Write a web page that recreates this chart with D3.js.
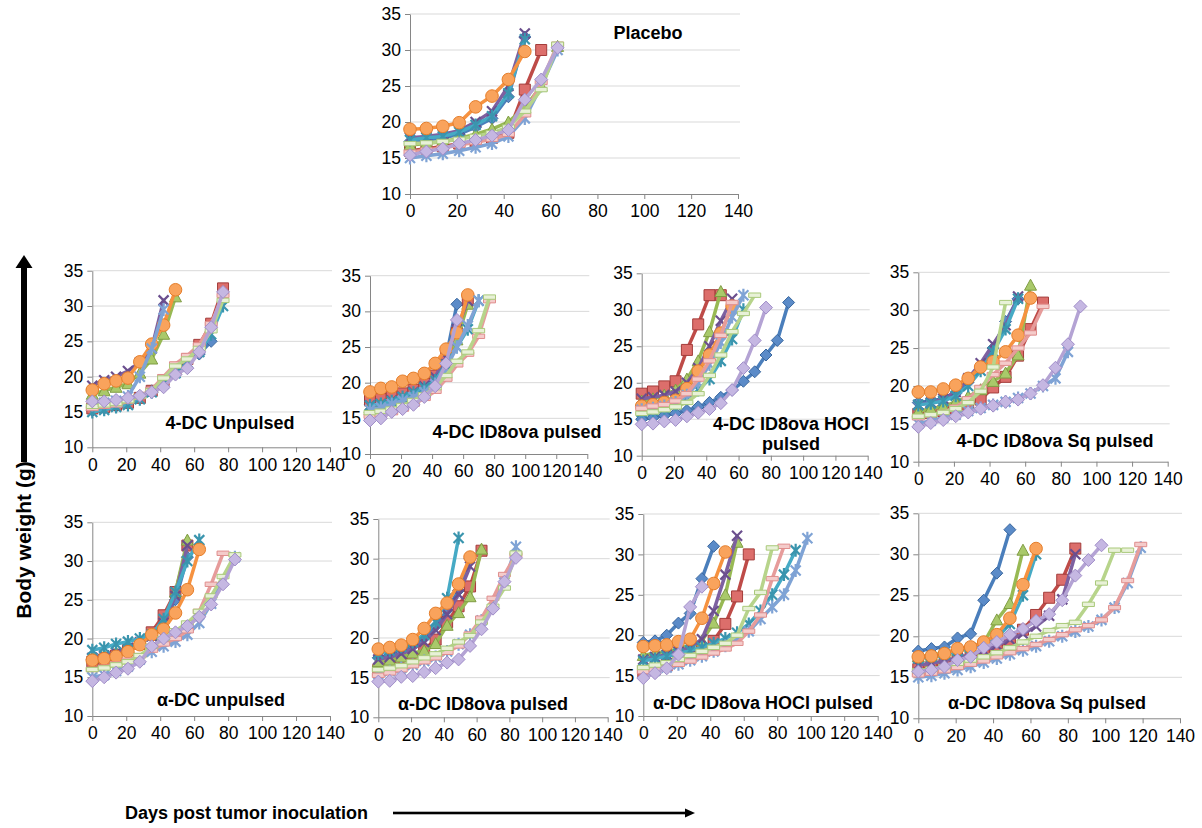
<!DOCTYPE html>
<html>
<head>
<meta charset="utf-8">
<script src="https://cdn.jsdelivr.net/npm/d3@7/dist/d3.min.js"></script>
<style>
  body { margin: 0; background: #fff; }
  svg { display: block; font-family: Arial, "Liberation Sans", sans-serif; }
</style>
</head>
<body>
<div id="grafico"></div>
<script>
// weigh-in days (same for every mouse) and axis ticks
const days   = [0, 7, 14, 21, 28, 35, 42, 49, 56, 63, 70, 77, 84, 91, 98, 105, 112, 119];
const xTicks = [0, 20, 40, 60, 80, 100, 120, 140];
const yTicks = [10, 15, 20, 25, 30, 35];

const panelTitles = [
  "Placebo",
  "4-DC Unpulsed", "4-DC ID8ova pulsed", "4-DC ID8ova HOCl\npulsed", "4-DC ID8ova Sq pulsed",
  "α-DC unpulsed", "α-DC ID8ova pulsed", "α-DC ID8ova HOCl pulsed", "α-DC ID8ova Sq pulsed"
];

// body weight (g) per mouse, one row per series in the order:
// blue, red, green, purple, teal, orange, light blue, pink, light green, lavender
const placebo = [
  [17.3, 17.5, 17.8, 18.3, 19.3, 20.5, 23.5, 31.8],
  [16, 16.3, 16.6, 17, 17.3, 17.8, 18.5, 24.5, 30],
  [16.8, 17, 17.3, 17.7, 18.3, 19, 20, 22, 25, 30.5],
  [17.8, 18, 18.3, 18.8, 20, 21.5, 25, 32.3],
  [17.5, 17.8, 18, 18.6, 19.6, 20.8, 24, 31.5],
  [19, 19.1, 19.4, 19.9, 22.1, 23.6, 25.9, 29.8],
  [15, 15.3, 15.6, 16, 16.5, 17, 18, 20.5, 25, 30],
  [15.8, 16.1, 16.4, 16.8, 17.2, 17.6, 18.3, 21, 25.5, 30.8],
  [17, 17.1, 17.3, 17.6, 18, 18.5, 19.3, 21.5, 24.5, 30.8],
  [15.4, 15.9, 16.3, 17, 17.5, 18.1, 18.9, 23.1, 25.9, 30.3]
];
const dc4Unpulsed = [
  [15.2, 15.5, 15.8, 16.2, 17, 18, 19.3, 20.8, 22.3, 23.2, 25],
  [15.5, 15.7, 16, 16.3, 17, 18, 19.5, 21, 22.5, 24.5, 27.5, 32.5],
  [17.5, 18, 18.5, 19, 20.5, 22.5, 26, 31.3],
  [18.7, 19.5, 20, 20.8, 22, 24, 30.8],
  [15, 15.3, 15.7, 16, 16.8, 17.8, 19, 20.5, 22, 23.5, 26, 30],
  [18.1, 19, 19.4, 19.8, 22.1, 24.6, 27.3, 32.3],
  [16, 16.3, 16.6, 17.2, 20, 24, 29.5],
  [15.5, 15.8, 16, 16.5, 17.2, 18.2, 20, 21.8, 23, 24.5, 27.5, 31.5],
  [15.8, 16, 16.2, 16.6, 17.2, 18, 19.8, 21.5, 22.5, 24, 26.5, 30.8],
  [16.5, 16.5, 16.7, 17, 17.3, 17.8, 18.5, 20.3, 21.2, 23.5, 27, 32]
];
const dc4Pulsed = [
  [17, 17.3, 17.6, 18, 18.5, 19.3, 20.5, 23.5, 31],
  [17.5, 17.7, 18, 18.5, 19, 19.8, 21, 24, 27, 31.5],
  [16.5, 17, 17.2, 17.8, 18.3, 19, 20, 22.5, 26, 31],
  [16.8, 17, 17.5, 18, 18.7, 19.5, 20.8, 23.5, 27.5, 31.5],
  [16.8, 17, 17.4, 18, 18.6, 19.3, 20.3, 22.5, 25, 27.5, 31.5],
  [18.7, 19.2, 19.4, 20.2, 20.6, 21.3, 22.7, 24.7, 27, 32.3],
  [16.2, 16.5, 17, 17.5, 18, 18.7, 19.8, 22, 25, 28, 31.5],
  [15.3, 15.5, 15.8, 16.3, 17, 17.8, 18.8, 20.5, 22.5, 24, 26.5, 31.5],
  [15.8, 16, 16.3, 16.8, 17.5, 18.3, 19.3, 21, 23, 24.3, 27.3, 32],
  [14.7, 15, 15.9, 16.3, 16.9, 18, 19.5, 22.7, 28.8]
];
const dc4Hocl = [
  [15, 15.2, 15.5, 15.8, 16.2, 16.7, 17.3, 18, 19, 20.2, 21.5, 23.8, 25.8, 31],
  [18.5, 18.8, 19.5, 20.2, 24.5, 28, 32, 32],
  [17.5, 17.8, 18.3, 19, 20.5, 23, 27, 32.5],
  [17.8, 18, 18.3, 18.8, 20, 22, 25, 28.5, 31.5],
  [16, 16.2, 16.5, 17, 17.8, 19, 20.5, 23, 26, 30],
  [16.8, 17, 17.3, 17.6, 19.2, 21.6, 23.8, 26.8, 30.5],
  [16.3, 16.5, 16.8, 17.3, 18.3, 20, 22.5, 25.5, 29, 32],
  [16.5, 16.8, 17, 17.5, 18.5, 20.5, 23, 26.5, 31],
  [15.8, 16, 16.3, 16.7, 17.3, 18.5, 21, 23.8, 27, 29.5, 32],
  [14.3, 14.4, 14.7, 14.9, 15.4, 15.9, 16.4, 17.2, 19, 22, 25.8, 30.3]
];
const dc4Sq = [
  [17.8, 18, 18.3, 19, 20.5, 22.5, 25, 28.5, 31.5],
  [16.3, 16.4, 16.7, 17, 17.5, 18.2, 19.8, 21.2, 24, 27.5, 31],
  [16.6, 17, 17.3, 17.9, 18.6, 19.5, 20.6, 21.7, 24.1, 33.3],
  [17.5, 17.8, 18.3, 19.2, 21, 23, 25.5, 28, 31.8],
  [17.5, 17.7, 18, 18.7, 20, 22, 24.5, 27.5, 31.5],
  [19.2, 19.2, 19.6, 20.1, 21, 22.5, 23.2, 24.5, 26.7, 31.6],
  [15, 15.4, 15.8, 16.2, 16.7, 17.1, 17.5, 17.9, 18.4, 19, 20, 21, 24.5],
  [15.8, 16.2, 16.5, 17.2, 18.3, 19.8, 21.5, 23, 25, 27, 30.5],
  [16, 16.2, 16.5, 17, 17.8, 19.3, 22.5, 31],
  [14.6, 15.1, 15.5, 16, 16.5, 17, 17.4, 17.9, 18.2, 19, 20.1, 22.4, 25.5, 30.5]
];
const aDcUnpulsed = [
  [17.3, 17.6, 18, 18.6, 19.3, 20.3, 22, 25, 30.5],
  [17, 17.3, 17.8, 18.5, 19.3, 20.8, 23, 26, 32],
  [17.5, 17.8, 18.2, 18.8, 19.5, 20.5, 22, 26, 32.7],
  [17.5, 17.8, 18.2, 18.8, 19.5, 20.3, 22, 25.5, 32],
  [18.5, 18.8, 19.3, 19.6, 20, 20.5, 22.5, 26, 30, 32.7],
  [17.2, 17.4, 17.7, 18.3, 19.2, 20.5, 21.2, 23.3, 26.3, 31.5],
  [15, 15.3, 15.8, 16.4, 17.3, 18.3, 19, 19.6, 20.5, 22, 24.5, 27.5, 30.5],
  [16, 16.3, 16.7, 17.2, 17.8, 18.5, 19.3, 20, 21, 23.5, 27, 31],
  [16, 16.2, 16.6, 17, 17.8, 19, 20, 21, 22, 23.5, 25.5, 28, 30.8],
  [14.5, 15, 15.6, 16.1, 17, 19, 20, 20.8, 21.6, 22.8, 24.4, 27, 30.2]
];
const aDcPulsed = [
  [17.5, 17.8, 18.3, 19, 20, 21.5, 23.5, 26, 30],
  [16, 16.3, 16.8, 17.5, 18.5, 19.8, 22, 24, 26.5, 31],
  [17, 17.2, 17.6, 18.1, 18.4, 19.3, 21.6, 23.2, 25.2, 31.2],
  [17.3, 17.6, 18, 18.6, 19.5, 21, 23, 25.5, 29],
  [18, 18.4, 18.9, 19.5, 20.4, 22, 25, 32.6],
  [18.6, 18.8, 19.1, 19.8, 21.2, 23.1, 24.4, 26.8, 30.2],
  [15.5, 15.8, 16.2, 16.6, 17.1, 17.6, 18.3, 19.2, 20.4, 22.2, 24.5, 27, 31.5],
  [15.3, 15.6, 16, 16.5, 17, 17.5, 18.2, 19, 20.5, 22.5, 25, 28, 30.5],
  [16, 16.2, 16.5, 17, 17.5, 18, 18.7, 19.5, 20.3, 22, 24, 26.3, 30.7],
  [14.5, 14.6, 15.1, 15.2, 15.7, 16.2, 16.9, 17.3, 19, 21.1, 23.7, 27.1, 30.1]
];
const aDcHocl = [
  [19.1, 19.3, 20, 21.5, 22.7, 27, 31],
  [15.5, 15.8, 16.3, 16.8, 17.3, 18.2, 19.3, 21.4, 24.8, 30],
  [17.5, 17.8, 18, 18.3, 18.8, 19.3, 21.5, 25, 31.5],
  [17, 17.3, 17.6, 18, 18.5, 19.5, 23, 27.5, 32.3],
  [16.8, 17.1, 17.4, 17.7, 18.1, 18.5, 19, 19.6, 20.3, 21.4, 23, 25, 27.5, 30.5],
  [18.6, 18.7, 18.8, 19.2, 19.5, 22.1, 26.4, 30.3],
  [15.3, 15.6, 16, 16.4, 16.9, 17.4, 18, 18.7, 19.5, 20.5, 22, 23.5, 25, 28, 32],
  [15.5, 15.7, 16, 16.4, 16.8, 17.3, 17.8, 18.3, 19, 20.5, 22.5, 27, 31],
  [16, 16.3, 16.6, 17, 17.5, 18, 18.5, 19, 20, 23.3, 25.3, 30.8],
  [14.7, 15.3, 15.9, 17.6, 23.5, 26]
];
const aDcSq = [
  [18.2, 18.5, 18.7, 19.8, 20.3, 24.4, 27.7, 33],
  [16, 16.3, 16.6, 17, 17.4, 17.9, 18.7, 19.5, 20.8, 22.6, 24.7, 26.9, 30.7],
  [17.5, 17.7, 18, 18.3, 18.7, 19.2, 22, 24, 30.5],
  [16.5, 16.7, 17, 17.4, 17.8, 18.3, 18.9, 19.6, 20.3, 21.2, 22.5, 24.5, 30],
  [17.3, 17.5, 17.8, 18.2, 18.6, 19, 19.8, 21.5, 25, 30],
  [17.5, 17.6, 17.9, 18.5, 18.7, 19.3, 20.2, 22.2, 26.3, 30.7],
  [15, 15.2, 15.5, 15.9, 16.3, 16.8, 17.3, 17.8, 18.3, 18.8, 19.4, 20, 20.6, 21.2, 22, 23.5, 26.5, 30.8],
  [15.3, 15.5, 15.8, 16.2, 16.6, 17, 17.5, 18, 18.5, 19, 19.6, 20.2, 20.8, 21.3, 22, 23.5, 26.8, 31.2],
  [15.8, 16, 16.3, 16.7, 17.1, 17.5, 18, 18.6, 19.3, 20, 20.7, 21.3, 21.7, 23.9, 26.5, 30.5, 30.5],
  [15.7, 15.9, 16.3, 17.1, 17.5, 18.6, 19.3, 20.2, 20.9, 21.9, 22.7, 24.4, 27.4, 29.3, 31.1]
];
const panelData = [placebo, dc4Unpulsed, dc4Pulsed, dc4Hocl, dc4Sq, aDcUnpulsed, aDcPulsed, aDcHocl, aDcSq];

// estilo das séries (Excel)
const estilos = [
  { linha: "#4a7ebb", fill: "#5b8bc8", borda: "#3a679e", marca: "diamond" },
  { linha: "#be4b48", fill: "#dc6e6b", borda: "#a33c3a", marca: "square" },
  { linha: "#98b954", fill: "#a9c96a", borda: "#7f9c43", marca: "triangle" },
  { linha: "#7d60a0", fill: "none",    borda: "#6b4f8e", marca: "x" },
  { linha: "#46aac5", fill: "none",    borda: "#3a95ae", marca: "star" },
  { linha: "#f69240", fill: "#f9a35c", borda: "#e57e2b", marca: "circle" },
  { linha: "#7fa3d5", fill: "none",    borda: "#7fa3d5", marca: "star" },
  { linha: "#e69c9b", fill: "#f4cbca", borda: "#e08e8d", marca: "dash" },
  { linha: "#b7d48b", fill: "#e8f1d7", borda: "#a9c97a", marca: "dash" },
  { linha: "#b4a3d4", fill: "#c5b7e2", borda: "#a08dc8", marca: "lavender" }
];
const marcas = {
  diamond:  "M0,-6L6,0L0,6L-6,0Z",
  lavender: "M0,-6.5L6.5,0L0,6.5L-6.5,0Z",
  square:   "M-5.5,-5.5H5.5V5.5H-5.5Z",
  triangle: "M0,-6L6,5H-6Z",
  circle:   d3.symbol(d3.symbolCircle, 125)(),
  x:        "M-5,-5L5,5M-5,5L5,-5",
  star:     "M-5,-5L5,5M-5,5L5,-5M0,-6.5V6.5",
  dash:     "M-6,-2.2H6V2.2H-6Z"
};

// posição de cada painel: eixo x (0 e 140), eixo y (10 e 35), título
const paineis = [
  { x0: 410,   x1: 738,    y10: 194,   y35: 14,    tx: 648,  ty: 39 },
  { x0: 92.3,  x1: 330,    y10: 447.3, y35: 270.7, tx: 230,  ty: 429 },
  { x0: 370,   x1: 587.3,  y10: 454,   y35: 275.7, tx: 517,  ty: 438 },
  { x0: 641.7, x1: 867.7,  y10: 455.7, y35: 273.3, tx: 791,  ty: 430 },
  { x0: 918.3, x1: 1167.7, y10: 461.7, y35: 272.3, tx: 1055, ty: 447 },
  { x0: 92.3,  x1: 330,    y10: 716,   y35: 522.3, tx: 221,  ty: 706 },
  { x0: 378.3, x1: 607.7,  y10: 717.3, y35: 519,   tx: 483,  ty: 710 },
  { x0: 643.3, x1: 877.7,  y10: 716,   y35: 514,   tx: 763,  ty: 709 },
  { x0: 918.3, x1: 1180,   y10: 718.3, y35: 513.3, tx: 1047, ty: 709 }
];

const largura = 1202, altura = 828;
const svg = d3.select("#grafico").append("svg")
    .attr("width", largura)
    .attr("height", altura)
    .attr("viewBox", [0, 0, largura, altura]);

function painel(p, series, titulo) {
  const escala_x = d3.scaleLinear([0, 140], [p.x0, p.x1]);
  const escala_y = d3.scaleLinear([10, 35], [p.y10, p.y35]);
  const g = svg.append("g");

  // linhas de grade
  g.append("g")
    .selectAll("line")
    .data(yTicks.slice(1))
    .join("line")
      .attr("x1", p.x0).attr("x2", p.x1 + 2)
      .attr("y1", d => escala_y(d)).attr("y2", d => escala_y(d))
      .attr("stroke", "#d9d9d9");

  // eixo Y
  g.append("g")
      .attr("transform", `translate(${p.x0},0)`)
      .call(d3.axisLeft(escala_y).tickValues(yTicks).tickSize(5).tickSizeOuter(0).tickPadding(4))
      .call(a => a.selectAll("path, line").attr("stroke", "#868686"))
      .call(a => a.selectAll("text").attr("fill", "#000").attr("font-size", 17.5)
          .attr("font-family", "Arial, 'Liberation Sans', sans-serif"));

  // eixo X
  g.append("g")
      .attr("transform", `translate(0,${p.y10})`)
      .call(d3.axisBottom(escala_x).tickValues(xTicks).tickSize(5).tickSizeOuter(0).tickPadding(6))
      .call(a => a.selectAll("path, line").attr("stroke", "#868686"))
      .call(a => a.selectAll("text").attr("fill", "#000").attr("font-size", 17.5)
          .attr("font-family", "Arial, 'Liberation Sans', sans-serif"));

  // séries
  const linha = d3.line()
      .x((v, i) => escala_x(days[i]))
      .y(v => escala_y(v));

  series.forEach((valores, s) => {
    const e = estilos[s];
    const gs = g.append("g");
    gs.append("path")
        .attr("d", linha(valores))
        .attr("fill", "none")
        .attr("stroke", e.linha)
        .attr("stroke-width", 3.5)
        .attr("stroke-linejoin", "round")
        .attr("stroke-linecap", "round");
    gs.selectAll("path.marca")
      .data(valores)
      .join("path")
        .attr("class", "marca")
        .attr("transform", (v, i) => `translate(${escala_x(days[i])},${escala_y(v)})`)
        .attr("d", marcas[e.marca])
        .attr("fill", e.fill)
        .attr("stroke", e.borda)
        .attr("stroke-width", e.fill === "none" ? 2.2 : 1);
  });

  // título
  const t = g.append("text")
      .attr("text-anchor", "middle")
      .attr("font-weight", "bold")
      .attr("font-size", 18)
      .attr("fill", "#000");
  titulo.split("\n").forEach((l, i) => {
    t.append("tspan").attr("x", p.tx).attr("y", p.ty + i * 20).text(l);
  });
}

paineis.forEach((p, i) => painel(p, panelData[i], panelTitles[i]));

// rótulo do eixo Y com seta
svg.append("rect").attr("x", 21).attr("y", 266).attr("width", 6).attr("height", 196).attr("fill", "#000");
svg.append("path").attr("d", "M15.5,268L24,255L32.5,268Z").attr("fill", "#000");
svg.append("text")
    .attr("transform", "translate(31,540) rotate(-90)")
    .attr("text-anchor", "middle")
    .attr("font-weight", "bold")
    .attr("font-size", 21)
    .text("Body weight (g)");

// rótulo do eixo X com seta
svg.append("text")
    .attr("x", 125).attr("y", 819)
    .attr("font-weight", "bold")
    .attr("font-size", 18)
    .text("Days post tumor inoculation");
svg.append("rect").attr("x", 393).attr("y", 811.7).attr("width", 293).attr("height", 2.6).attr("fill", "#000");
svg.append("path").attr("d", "M685,808.5L695,813L685,817.5Z").attr("fill", "#000");
</script>
</body>
</html>
